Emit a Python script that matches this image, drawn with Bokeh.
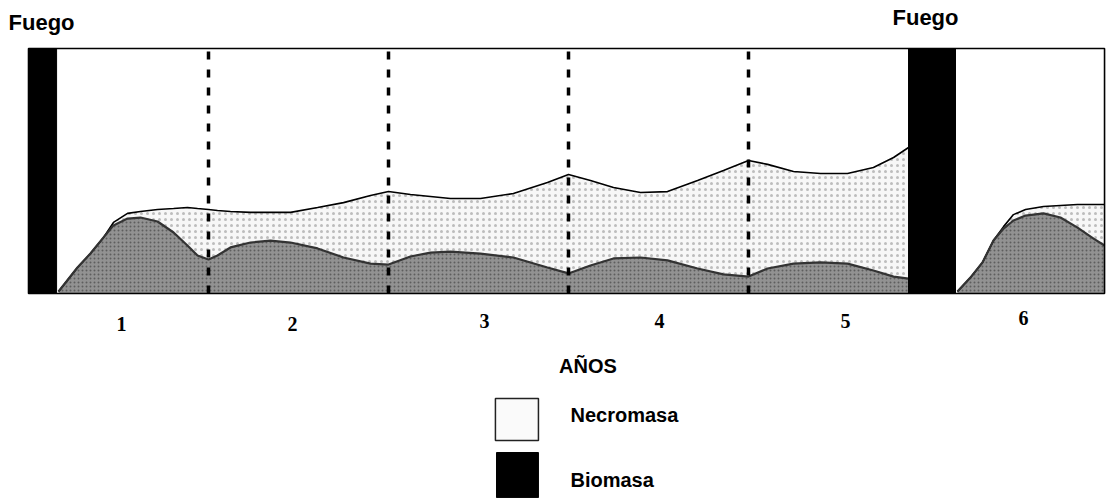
from bokeh.plotting import figure
from bokeh.models import Range1d
from bokeh.core.properties import value
from bokeh.embed import file_html
from bokeh.resources import INLINE

# ---- data (x in years since the first fire, y in relative standing mass 0-100) ----
years_1 = [0.167, 0.272, 0.344, 0.417, 0.472, 0.55, 0.622, 0.717, 0.806, 0.883,
           0.939, 1.0, 1.05, 1.122, 1.233, 1.344, 1.456, 1.606, 1.75, 1.9,
           2.0, 2.122, 2.233, 2.344, 2.511, 2.694, 2.883, 3.0, 3.122, 3.25,
           3.4, 3.55, 3.717, 3.861, 4.0, 4.106, 4.25, 4.4, 4.55, 4.694,
           4.806, 4.889]
biomasa_1 = [0.8, 10.6, 16.3, 22.9, 27.8, 30.6, 31.0, 29.4, 24.9, 19.6,
             15.5, 13.9, 15.5, 18.8, 20.8, 21.6, 20.8, 18.4, 14.7, 12.2,
             11.8, 15.1, 16.7, 17.1, 16.3, 14.7, 10.6, 8.2, 11.4, 14.3,
             14.7, 13.5, 10.2, 7.8, 6.9, 10.2, 12.2, 12.7, 12.2, 9.4,
             6.9, 6.1]
total_1 = [0.8, 10.6, 16.3, 22.9, 29.0, 32.7, 33.5, 34.3, 34.7, 35.1,
           34.7, 34.3, 33.9, 33.5, 33.1, 33.1, 33.1, 35.1, 37.1, 40.0,
           41.6, 40.4, 39.6, 38.8, 38.8, 40.8, 45.3, 48.6, 46.1, 43.3,
           41.2, 41.6, 46.1, 50.2, 54.3, 52.7, 49.8, 49.0, 49.0, 51.4,
           55.5, 59.6]

years_2 = [5.161, 5.233, 5.3, 5.361, 5.417, 5.472, 5.539, 5.639, 5.733, 5.828, 5.917, 5.978]
biomasa_2 = [0.8, 6.5, 12.7, 21.6, 26.5, 29.8, 31.8, 32.7, 31.0, 26.9, 22.4, 19.6]
total_2 = [0.8, 6.5, 12.7, 21.6, 27.3, 32.2, 34.3, 35.5, 35.9, 36.3, 36.3, 36.3]

fire_start = [0.0, 4.889]
fire_end = [0.156, 5.15]
year_bounds = [1, 2, 3, 4]
year_labels = ["1", "2", "3", "4", "5", "6"]
year_label_x = [0.517, 1.467, 2.533, 3.506, 4.539, 5.528]
year_label_y = [-12.6, -12.6, -11.4, -11.4, -11.4, -9.8]
x_end = 5.978
y_top = 100

SANS = value("Liberation Sans")
SERIF = value("Liberation Serif")

p = figure(width=1117, height=498, output_backend="svg", toolbar_location=None,
           x_range=Range1d(-0.1556, 6.05), y_range=Range1d(-83.67, 119.59),
           min_border=0, outline_line_color=None, background_fill_color="white",
           border_fill_color="white")
p.xaxis.visible = False
p.yaxis.visible = False
p.grid.visible = False

NECRO_FILL = "#f7f7f7"
BIO_FILL = "#929292"

for xs, bio, tot in [(years_1, biomasa_1, total_1), (years_2, biomasa_2, total_2)]:
    p.varea(x=xs, y1=bio, y2=tot, fill_color=NECRO_FILL,
            hatch_pattern=".", hatch_color="#bdbdbd", hatch_scale=6, hatch_weight=0.6)
    p.varea(x=xs, y1=[0] * len(xs), y2=bio, fill_color=BIO_FILL,
            hatch_pattern=".", hatch_color="#5e5e5e", hatch_scale=4, hatch_weight=1)
    p.line(xs, tot, line_color="black", line_width=1.6)
    p.line(xs, bio, line_color="#333333", line_width=2.2)

# year boundaries
p.segment(x0=year_bounds, y0=[0] * 4, x1=year_bounds, y1=[y_top] * 4,
          line_color="black", line_width=3.5, line_dash="8 10")

# frame box
p.quad(left=[0], right=[x_end], bottom=[0], top=[y_top], fill_color=None,
       line_color="black", line_width=1.6)

# fires
p.quad(left=fire_start, right=fire_end, bottom=[0, 0], top=[y_top, y_top],
       fill_color="black", line_color="black")

# texts
p.text(x=[-0.111], y=[110.6], text=["Fuego"], text_font=SANS, text_font_style="bold",
       text_font_size="22px", text_align="left", text_baseline="alphabetic", text_color="black")
p.text(x=[4.80], y=[112.7], text=["Fuego"], text_font=SANS, text_font_style="bold",
       text_font_size="22px", text_align="left", text_baseline="alphabetic", text_color="black")

p.text(x=year_label_x, y=year_label_y, text=year_labels, text_font=SERIF,
       text_font_style="bold", text_font_size="20px", text_align="center",
       text_baseline="alphabetic", text_color="black")

p.text(x=[3.108], y=[-29.4], text=["AÑOS"], text_font=SANS, text_font_style="bold",
       text_font_size="20px", text_align="center", text_baseline="alphabetic", text_color="black")

# legend
p.quad(left=[2.594], right=[2.833], bottom=[-60.0], top=[-42.9], fill_color="#fafafa",
       line_color="#222222", line_width=1.5)
p.quad(left=[2.6], right=[2.833], bottom=[-83.3], top=[-64.9], fill_color="black",
       line_color="black")
p.text(x=[3.011, 3.011], y=[-49.4, -76.3], text=["Necromasa", "Biomasa"], text_font=SANS,
       text_font_style="bold", text_font_size="20px", text_align="left",
       text_baseline="alphabetic", text_color="black")

open("out.html", "w").write(file_html(p, INLINE))
